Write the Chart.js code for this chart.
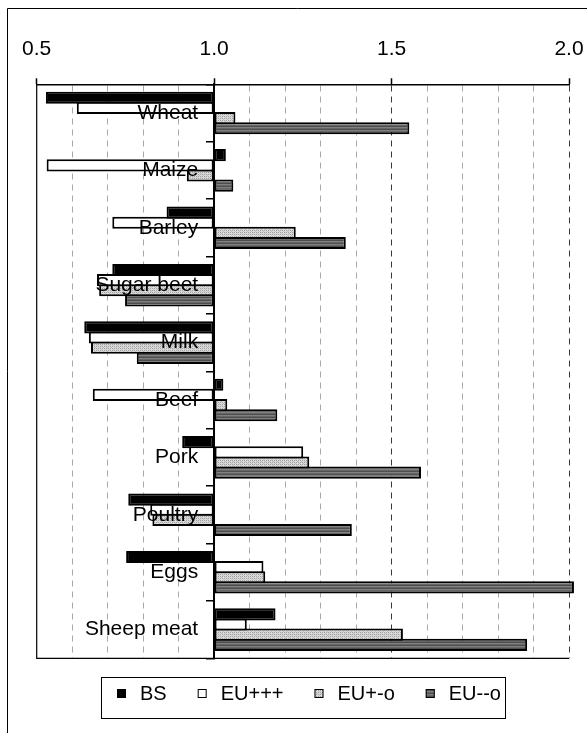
<!DOCTYPE html>
<html>
<head>
<meta charset="utf-8">
<script src="https://cdn.jsdelivr.net/npm/chart.js@4/dist/chart.umd.min.js"></script>
<style>
  html, body { margin: 0; padding: 0; background: #ffffff; }
  canvas { display: block; }
</style>
</head>
<body>
<canvas id="chart" width="587" height="733"></canvas>
<script>
// Product categories, top to bottom
const categories = ['Wheat', 'Maize', 'Barley', 'Sugar beet', 'Milk', 'Beef', 'Pork', 'Poultry', 'Eggs', 'Sheep meat'];

// Index values per scenario (1.0 = base)
const bsValues       = [0.526, 1.033, 0.866, 0.713, 0.634, 1.026, 0.910, 0.758, 0.752, 1.173];
const euPlusPlusPlus = [0.613, 0.528, 0.713, 0.670, 0.647, 0.658, 1.251, 0.820, 1.139, 1.092];
const euPlusMinusO   = [1.060, 0.923, 1.230, 0.676, 0.653, 1.037, 1.268, 0.826, 1.144, 1.532];
const euMinusMinusO  = [1.550, 1.054, 1.371, 0.749, 0.782, 1.178, 1.583, 1.388, 2.014, 1.882];

// Labelled ticks on the value axis
const tickLabels = ['0.5', '1.0', '1.5', '2.0'];

const FONT = '"Liberation Sans", Arial, Helvetica, sans-serif';

// Light stippled grey fill
function dotPattern() {
  const c = document.createElement('canvas');
  c.width = 4; c.height = 4;
  const g = c.getContext('2d');
  g.fillStyle = '#dadada';
  g.fillRect(0, 0, 4, 4);
  g.fillStyle = '#a0a0a0';
  g.fillRect(0, 0, 1, 1);
  g.fillRect(2, 2, 1, 1);
  g.fillRect(2, 0, 1, 1);
  g.fillRect(0, 2, 1, 1);
  g.fillStyle = '#c0c0c0';
  g.fillRect(1, 1, 1, 1);
  g.fillRect(3, 3, 1, 1);
  return g.createPattern(c, 'repeat');
}

// Dark grey fill with fine horizontal stripes
function stripePattern() {
  const c = document.createElement('canvas');
  c.width = 4; c.height = 3;
  const g = c.getContext('2d');
  g.fillStyle = '#4e4e4e'; g.fillRect(0, 0, 4, 1);
  g.fillStyle = '#808080'; g.fillRect(0, 1, 4, 1);
  g.fillStyle = '#666666'; g.fillRect(0, 2, 4, 1);
  return g.createPattern(c, 'repeat');
}

// White background, outer frame and plot-area border
const framePlugin = {
  id: 'frame',
  beforeDraw(chart) {
    const ctx = chart.ctx;
    ctx.save();
    ctx.fillStyle = '#ffffff';
    ctx.fillRect(0, 0, chart.width, chart.height);
    ctx.strokeStyle = '#000000';
    ctx.lineWidth = 1;
    ctx.beginPath();
    ctx.moveTo(7.5, chart.height + 2);
    ctx.lineTo(7.5, 8.5);
    ctx.lineTo(chart.width + 2, 8.5);
    ctx.stroke();
    ctx.restore();
  },
  beforeDatasetsDraw(chart) {
    const a = chart.chartArea;
    const ctx = chart.ctx;
    ctx.save();
    ctx.strokeStyle = '#000000';
    ctx.lineWidth = 1.2;
    ctx.beginPath();
    ctx.moveTo(a.left, a.top);
    ctx.lineTo(a.left, a.bottom);
    ctx.lineTo(a.right, a.bottom);
    ctx.stroke();
    ctx.restore();
  }
};

// Boxed legend below the plot
const boxedLegend = {
  id: 'boxedLegend',
  afterDraw(chart) {
    const ctx = chart.ctx;
    ctx.save();
    ctx.strokeStyle = '#000000';
    ctx.lineWidth = 1;
    ctx.strokeRect(101.5, 677.5, 404, 41);
    ctx.font = '20px ' + FONT;
    ctx.textBaseline = 'middle';
    ctx.textAlign = 'left';
    let x = 117;
    chart.data.datasets.forEach(ds => {
      ctx.fillStyle = ds.backgroundColor;
      ctx.fillRect(x, 689, 9, 9);
      ctx.strokeStyle = '#000000';
      ctx.lineWidth = 1;
      ctx.strokeRect(x + 0.5, 689.5, 8, 8);
      ctx.fillStyle = '#000000';
      ctx.fillText(ds.label, x + 23, 694);
      x += 23 + ctx.measureText(ds.label).width + 31;
    });
    ctx.restore();
  }
};

function tenths(v) { return Math.round(v * 10); }

new Chart(document.getElementById('chart'), {
  type: 'bar',
  data: {
    labels: categories,
    datasets: [
      { label: 'BS',    data: bsValues,       backgroundColor: '#000000' },
      { label: 'EU+++', data: euPlusPlusPlus, backgroundColor: '#ffffff' },
      { label: 'EU+-o', data: euPlusMinusO,   backgroundColor: dotPattern() },
      { label: 'EU--o', data: euMinusMinusO,  backgroundColor: stripePattern(), clip: 8 }
    ]
  },
  options: {
    indexAxis: 'y',
    responsive: false,
    animation: false,
    devicePixelRatio: 1,
    layout: { padding: { left: 36.7, right: 18, top: 0, bottom: 74.7 } },
    datasets: {
      bar: {
        base: 1,
        borderColor: '#000000',
        borderWidth: 2,
        borderSkipped: false,
        // neighbouring bars share their 2px outline
        categoryPercentage: 0.707,
        barPercentage: 1.197
      }
    },
    plugins: {
      legend: { display: false },
      tooltip: { enabled: false }
    },
    scales: {
      x: {
        type: 'linear',
        position: 'top',
        min: 0.5,
        max: 2.0,
        afterFit(scale) {
          scale.height = 84.3;
          scale.paddingLeft = 0;
          scale.paddingRight = 0;
        },
        ticks: {
          stepSize: 0.1,
          autoSkip: false,
          maxRotation: 0,
          padding: 16,
          color: '#000000',
          font: { family: FONT, size: 21 },
          callback(value) {
            const t = tenths(value);
            return t % 5 === 0 ? tickLabels[(t - 5) / 5] : '';
          }
        },
        grid: {
          lineWidth: 1,
          color(ctx) {
            if (!ctx.tick) return 'rgba(0,0,0,0)';
            const t = tenths(ctx.tick.value);
            if (t === 5 || t === 10) return 'rgba(0,0,0,0)';
            if (t === 15 || t === 20) return '#3a3a3a';
            return '#a8a8a8';
          },
          tickColor(ctx) {
            if (!ctx.tick) return 'rgba(0,0,0,0)';
            return tenths(ctx.tick.value) % 5 === 0 ? '#000000' : 'rgba(0,0,0,0)';
          },
          tickLength: 6,
          tickWidth: 1.5
        },
        border: { display: true, color: '#000000', width: 1.5, dash: [6, 5] }
      },
      // category axis crossing at 1.0: axis line and tick marks
      y: {
        type: 'category',
        position: { x: 1 },
        ticks: { display: false, autoSkip: false },
        grid: {
          drawOnChartArea: false,
          offset: true,
          color: '#000000',
          lineWidth: 1.5,
          tickLength: 7,
          z: 1
        },
        border: { display: true, color: '#000000', width: 2, z: 1 }
      },
      // category names, set just left of the 1.0 axis line
      yLabels: {
        type: 'category',
        axis: 'y',
        position: { x: 0.955 },
        offset: true,
        ticks: {
          autoSkip: false,
          z: 1,
          color: '#000000',
          font: { family: FONT, size: 21 }
        },
        grid: { display: false },
        border: { display: false }
      }
    }
  },
  plugins: [framePlugin, boxedLegend]
});
</script>
</body>
</html>
